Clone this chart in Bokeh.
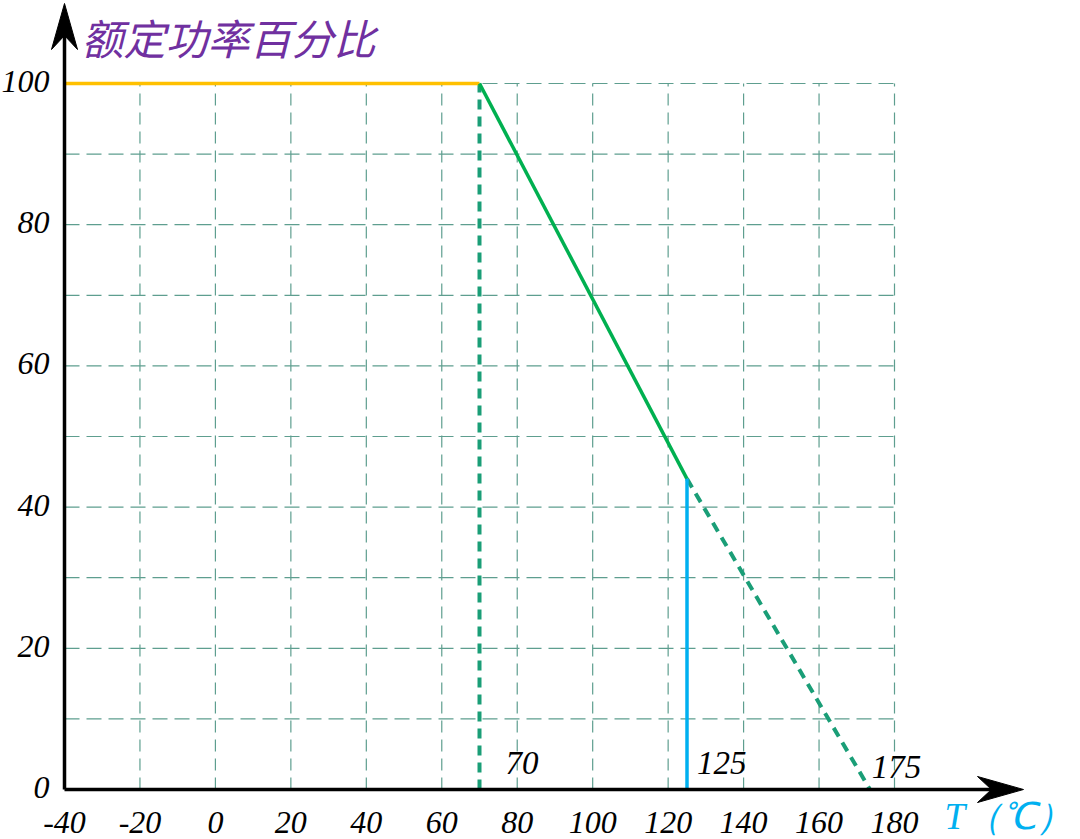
from bokeh.plotting import figure
from bokeh.models import Range1d, ColumnDataSource
from bokeh.core.properties import value
from bokeh.embed import file_html
from bokeh.resources import INLINE

# ---- data ----
x_ticks = [-40, -20, 0, 20, 40, 60, 80, 100, 120, 140, 160, 180]
x_tick_labels = ["-40", "-20", "0", "20", "40", "60", "80", "100", "120", "140", "160", "180"]
y_ticks = [0, 20, 40, 60, 80, 100]
y_tick_labels = ["0", "20", "40", "60", "80", "100"]
y_grid = [10, 20, 30, 40, 50, 60, 70, 80, 90, 100]

flat_x = [-40, 70]          # rated power region
flat_y = [100, 100]
derate_x = [70, 125]        # solid derating line
derate_y = [100, 44]
extend_x = [125, 173.5]     # dashed extension to zero
extend_y = [44, 0]
knee_x = [70, 70]
knee_y = [0, 100]
max_x = [125, 125]
max_y = [0, 44]
marks = ["70", "125", "175"]
mark_x = [70, 125, 175]

title = "额定功率百分比"
xlabel = "T（℃）"

# ---- layout: map data to page pixels ----
W, H = 1080, 839
PX_X0, PX_X1 = 64, 894     # pixel of x=-40 and x=180
PX_Y0, PX_Y1 = 789, 83     # pixel of y=0 and y=100
sx = (PX_X1 - PX_X0) / 220.0
sy = (PX_Y0 - PX_Y1) / 100.0
xr = Range1d(-40 - PX_X0 / sx, -40 + (W - PX_X0) / sx)
yr = Range1d(-(H - PX_Y0) / sy, 100 + PX_Y1 / sy)

p = figure(width=W, height=H, x_range=xr, y_range=yr, output_backend="svg",
           toolbar_location=None, x_axis_type=None, y_axis_type=None,
           min_border=0, outline_line_color=None, background_fill_color="white")

grid_color = "#5E9E8F"
# vertical grid lines
vx = x_ticks[1:]
p.segment(x0=vx, y0=[0] * len(vx), x1=vx, y1=[100] * len(vx),
          line_color=grid_color, line_width=1.2, line_dash="12 7")
# horizontal grid lines
p.segment(x0=[x_ticks[0]] * len(y_grid), y0=y_grid, x1=[x_ticks[-1]] * len(y_grid), y1=y_grid,
          line_color=grid_color, line_width=1.2, line_dash="15 7")

# curves
p.line(knee_x, knee_y, line_color="#1A9E77", line_width=4, line_dash="10 7")
p.line(extend_x, extend_y, line_color="#1A9E77", line_width=4, line_dash="10 7")
p.line(flat_x, flat_y, line_color="#FFC000", line_width=3.5)
p.line(derate_x, derate_y, line_color="#00B050", line_width=3.5)
p.line(max_x, max_y, line_color="#00B0F0", line_width=3.5)

# axes
ax_x_end = -40 + (1000 - PX_X0) / sx
ax_y_end = 100 + (PX_Y1 - 30) / sy
p.line([-40, ax_x_end], [0, 0], line_color="black", line_width=3.5)
p.line([-40, -40], [0, ax_y_end], line_color="black", line_width=3.5)
# arrow heads (sizes in pixels converted to data units)
L, Wd, N = 46, 13, 32
tip_x = -40 + (1023 - PX_X0) / sx
p.patch([tip_x, tip_x - L / sx, tip_x - N / sx, tip_x - L / sx],
        [0, Wd / sy, 0, -Wd / sy], fill_color="black", line_color="black")
tip_y = 100 + (PX_Y1 - 3) / sy
p.patch([-40, -40 + Wd / sx, -40, -40 - Wd / sx],
        [tip_y, tip_y - L / sy, tip_y - N / sy, tip_y - L / sy], fill_color="black", line_color="black")

serif = value("Liberation Serif")
# tick labels
p.text(x=x_ticks, y=[0] * len(x_ticks), text=x_tick_labels, text_font=serif,
       text_font_style="italic", text_font_size="32px", text_align="center",
       text_baseline="middle", y_offset=33, text_color="black")
p.text(x=[-40] * len(y_ticks), y=y_ticks, text=y_tick_labels, text_font=serif,
       text_font_style="italic", text_font_size="32px", text_align="right",
       text_baseline="middle", x_offset=-15, y_offset=-2, text_color="black")

# marks
src = ColumnDataSource(dict(x=mark_x, y=[0, 0, 0], t=marks, xo=[26, 10, -4], yo=[-27, -27, -23]))
p.text(x="x", y="y", text="t", source=src, x_offset="xo", y_offset="yo", text_font=serif,
       text_font_style="italic", text_font_size="33px", text_align="left",
       text_baseline="middle", text_color="black")

# titles
p.text(x=[-40], y=[100], text=[title], x_offset=17, y_offset=-47,
       text_font=value("Noto Sans CJK SC"), text_font_style="italic",
       text_font_size="42px", text_align="left", text_baseline="middle", text_color="#7030A0")
p.text(x=[180], y=[0], text=[xlabel], x_offset=50, y_offset=27,
       text_font=serif, text_font_style="italic",
       text_font_size="37px", text_align="left", text_baseline="middle", text_color="#00B0F0")

open("out.html", "w").write(file_html(p, INLINE))
